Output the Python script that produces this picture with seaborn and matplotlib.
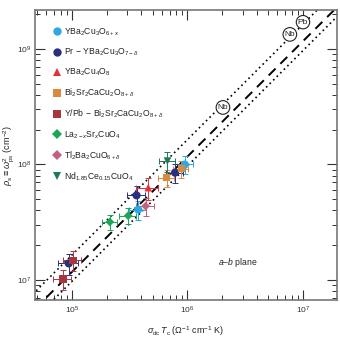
import numpy as np
import pandas as pd
import matplotlib
matplotlib.use("Agg")
import matplotlib.pyplot as plt
from matplotlib.lines import Line2D
import seaborn as sns

# ---------------- data ----------------
compounds = [
    r"YBa$_2$Cu$_3$O$_{6+x}$",
    r"Pr$\,-\,$YBa$_2$Cu$_3$O$_{7-\delta}$",
    r"YBa$_2$Cu$_4$O$_8$",
    r"Bi$_2$Sr$_2$CaCu$_2$O$_{8+\delta}$",
    r"Y/Pb$\,-\,$Bi$_2$Sr$_2$CaCu$_2$O$_{8+\delta}$",
    r"La$_{2-x}$Sr$_x$CuO$_4$",
    r"Tl$_2$Ba$_2$CuO$_{6+\delta}$",
    r"Nd$_{1.85}$Ce$_{0.15}$CuO$_4$",
]
colors = ["#2aa9e2", "#2a2f80", "#e0323c", "#d98a3c",
          "#a8363f", "#1aa656", "#c2607f", "#1e7a55"]
markers = ["o", "o", "^", "s", "s", "D", "D", "v"]
marker_area = [34, 34, 30, 28, 28, 20, 20, 30]
legend_msize = [6.0, 6.0, 5.6, 5.2, 5.2, 4.6, 4.6, 5.6]

point_compound = [0, 0, 1, 1, 1, 2, 3, 3, 4, 4, 5, 5, 6, 7]
sigma_tc = [9.5e5, 3.75e5, 7.8e5, 3.63e5, 9.4e4, 4.58e5, 8.87e5, 6.6e5,
            1.02e5, 8.4e4, 3.07e5, 2.13e5, 4.35e5, 6.72e5]
rho_s = [1.0e8, 4.07e7, 8.5e7, 5.4e7, 1.39e7, 6.3e7, 9.2e7, 7.7e7,
         1.48e7, 1.02e7, 3.6e7, 3.18e7, 4.36e7, 1.07e8]
rel_xerr = [0.17, 0.17, 0.17, 0.18, 0.2, 0.22, 0.15, 0.15,
            0.18, 0.18, 0.16, 0.15, 0.17, 0.16]
rel_yerr = [0.18, 0.18, 0.18, 0.2, 0.2, 0.22, 0.17, 0.17,
            0.2, 0.2, 0.16, 0.15, 0.18, 0.2]

# scaling lines  rho_s = C * sigma_dc * Tc
C_main = 117.0
C_upper = 164.0
C_lower = 97.0
line_x = [3e4, 4e7]

# elemental superconductors
elem_labels = ["Nb", "Nb", "Pb"]
elem_x = [2.03e6, 7.7e6, 1.0e7]
elem_y = [3.12e8, 1.34e9, 1.71e9]

tick_x = [1e5, 1e6, 1e7]
tick_y = [1e7, 1e8, 1e9]

# ---------------- figure ----------------
sns.set_theme(style="ticks")
plt.rcParams["font.family"] = ["Liberation Sans", "DejaVu Sans"]
plt.rcParams["mathtext.fontset"] = "custom"
plt.rcParams["mathtext.rm"] = "Liberation Sans"
plt.rcParams["mathtext.it"] = "Liberation Sans:italic"
plt.rcParams["mathtext.bf"] = "Liberation Sans:bold"

fig = plt.figure(figsize=(3.4, 3.44), dpi=100)
ax = fig.add_axes([35 / 340, 1 - 300 / 344, 302 / 340, 290 / 344])

df = pd.DataFrame({
    "compound": [compounds[i] for i in point_compound],
    "x": sigma_tc,
    "y": rho_s,
})

lx = np.array(line_x)
ax.plot(lx, C_main * lx, color="black", lw=1.4, ls=(0, (5, 3.5)), zorder=1)
ax.plot(lx, C_upper * lx, color="black", lw=1.2, ls=(0, (1, 2.0)), zorder=1)
ax.plot(lx, C_lower * lx, color="black", lw=1.2, ls=(0, (1, 2.0)), zorder=1)

for i, ci in enumerate(point_compound):
    x, y = sigma_tc[i], rho_s[i]
    ax.errorbar([x], [y],
                xerr=[[x * rel_xerr[i]], [x * rel_xerr[i]]],
                yerr=[[y * rel_yerr[i]], [y * rel_yerr[i]]],
                fmt="none", ecolor=colors[ci], elinewidth=0.7,
                capsize=2.0, capthick=0.7, zorder=2)

sns.scatterplot(data=df, x="x", y="y", hue="compound", style="compound",
                size="compound",
                hue_order=compounds, style_order=compounds, size_order=compounds,
                palette=colors, markers=markers,
                sizes=dict(zip(compounds, marker_area)),
                edgecolor="none", linewidth=0, ax=ax, zorder=3, legend=False)

ax.set_xscale("log")
ax.set_yscale("log")
ax.set_xlim(4.8e4, 1.97e7)
ax.set_ylim(6.7e6, 2.18e9)
ax.set_xticks(tick_x)
ax.set_yticks(tick_y)

for lab, x, y in zip(elem_labels, elem_x, elem_y):
    ax.text(x, y, lab, fontsize=6, ha="center", va="center", color="#222222",
            bbox=dict(boxstyle="circle,pad=0.18", fc="white", ec="#222222", lw=0.8),
            zorder=4)

ax.text(0.672, 0.131, r"$\it{a}$–$\it{b}$ plane", transform=ax.transAxes,
        fontsize=6.2, ha="center", va="center", color="#222222")

ax.set_xlabel(r"$\sigma_{\rm dc}\,T_{\rm c}$ ($\Omega^{-1}$ cm$^{-1}$ K)",
              fontsize=6.5, color="#222222")
ax.set_ylabel(r"$\rho_{\rm s}\equiv\omega^2_{\rm ps}$ (cm$^{-2}$)",
              fontsize=6.6, color="#222222")
ax.yaxis.set_label_coords(-0.062, 0.5)
ax.xaxis.set_label_coords(0.5, -0.085)

ax.tick_params(which="both", direction="in", top=True, right=True,
               colors="#333333", labelsize=6)
ax.tick_params(which="major", length=7, width=0.8)
ax.tick_params(which="minor", length=3.8, width=0.7)
ax.tick_params(axis="y", pad=2.5)
for sp in ax.spines.values():
    sp.set_color("#777777")
    sp.set_linewidth(1.2)
    sp.set_visible(True)

handles = [Line2D([], [], ls="none", marker=m, color=c, markersize=ms,
                  markeredgewidth=0)
           for m, c, ms in zip(markers, colors, legend_msize)]
leg = ax.legend(handles, compounds, loc="upper left",
                bbox_to_anchor=(0.045, 0.955), frameon=False,
                fontsize=6.2, handletextpad=0.2, labelspacing=1.0,
                borderaxespad=0, handlelength=1.2)
for t in leg.get_texts():
    t.set_color("#222222")

fig.savefig("out.png", dpi=100)
